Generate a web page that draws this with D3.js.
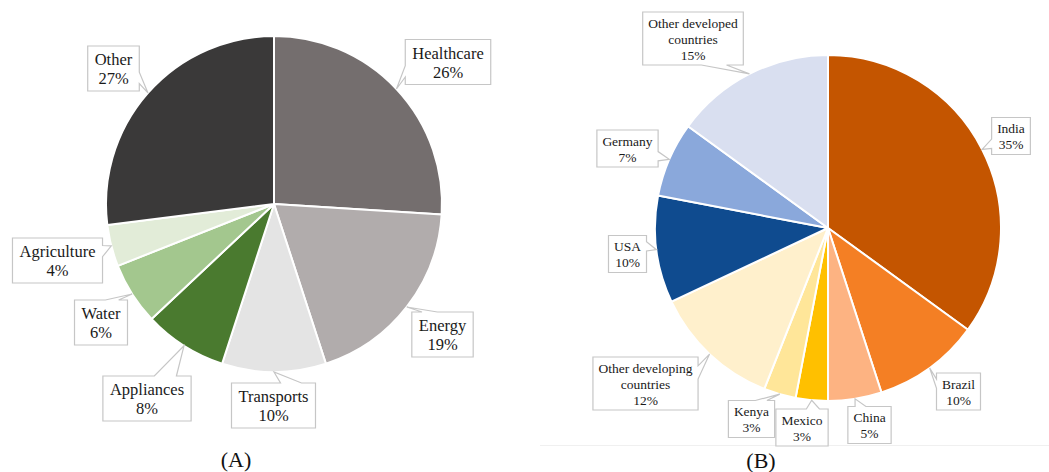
<!DOCTYPE html>
<html>
<head>
<meta charset="utf-8">
<script src="https://cdn.jsdelivr.net/npm/d3@7"></script>
<style>
  html, body { margin: 0; padding: 0; background: #ffffff; }
  svg { display: block; }
</style>
</head>
<body>
<svg id="chart" width="1049" height="472"></svg>
<script>
// ---------- data ----------
const sectorCategories = ["Healthcare", "Energy", "Transports", "Appliances", "Water", "Agriculture", "Other"];
const sectorValues = [26, 19, 10, 8, 6, 4, 27];

const countryCategories = ["India", "Brazil", "China", "Mexico", "Kenya",
  "Other developing\ncountries", "USA", "Germany", "Other developed\ncountries"];
const countryValues = [35, 10, 5, 3, 3, 12, 10, 7, 15];

const panelTitles = ["(A)", "(B)"];

// ---------- styles / layout ----------
const FONT = "'Liberation Serif', 'Times New Roman', Times, serif";
const sectorColors = ["#746e6e", "#b1acac", "#e4e4e4", "#4a7a2f", "#a3c78e", "#e2ecd8", "#3a3939"];
const countryColors = ["#c45500", "#f47f24", "#fdb382", "#ffc000", "#ffe699", "#fff0cc", "#0f4b8f", "#8aa8db", "#d9dff0"];

const panelA = {
  cx: 274, cy: 204, r: 168, font: 16.5, lh: 19, padX: 7, padY: 7, k: 6,
  boxes: [[448, 62], [442.5, 334.5], [273.5, 405.5], [147, 398.5], [101, 322.5], [57.5, 260.5], [113.5, 68.5]],
  title: [236, 467]
};
const panelB = {
  cx: 828, cy: 228, r: 173, font: 13.5, lh: 16, padX: 5.5, padY: 5, k: 5,
  boxes: [[1011, 136], [958.5, 391.5], [869.5, 425], [802, 427.5], [751.5, 419], [645.5, 383.5], [627.5, 254], [627.5, 148.5], [693, 38.5]],
  title: [761, 468]
};

const svg = d3.select("#chart");

// faint rule under panel B
svg.append("line").attr("x1", 540).attr("x2", 1049).attr("y1", 445.5).attr("y2", 445.5)
  .attr("stroke", "#f0f0f0").attr("stroke-width", 1);

function callout(x, y, w, h, tx, ty) {
  // OOXML wedgeRectCallout geometry
  const hc = x + w / 2, vc = y + h / 2;
  const dx = tx - hc, dy = ty - vc;
  const dq = dx * h / w;
  const dz = Math.abs(dy) - Math.abs(dq);
  const xg1 = dx > 0 ? 7 : 2, xg2 = dx > 0 ? 10 : 5;
  const yg1 = dy > 0 ? 7 : 2, yg2 = dy > 0 ? 10 : 5;
  const x1 = x + w * xg1 / 12, x2 = x + w * xg2 / 12;
  const y1 = y + h * yg1 / 12, y2 = y + h * yg2 / 12;
  const pts = [];
  pts.push([x, y]);
  if (dz > 0 && dy < 0) { pts.push([x1, y], [tx, ty], [x2, y]); }
  pts.push([x + w, y]);
  if (dz <= 0 && dx > 0) { pts.push([x + w, y1], [tx, ty], [x + w, y2]); }
  pts.push([x + w, y + h]);
  if (dz > 0 && dy > 0) { pts.push([x2, y + h], [tx, ty], [x1, y + h]); }
  pts.push([x, y + h]);
  if (dz <= 0 && dx < 0) { pts.push([x, y2], [tx, ty], [x, y1]); }
  return "M" + pts.map(p => p[0] + "," + p[1]).join("L") + "Z";
}

function drawPie(cats, vals, colors, cfg) {
  const g = svg.append("g");
  const pie = d3.pie().sort(null).value(d => d.v)(cats.map((c, i) => ({ c, v: vals[i] })));
  const arc = d3.arc().innerRadius(0).outerRadius(cfg.r);
  g.append("g").attr("transform", `translate(${cfg.cx},${cfg.cy})`)
    .selectAll("path").data(pie).join("path")
    .attr("d", arc)
    .attr("fill", (d, i) => colors[i])
    .attr("stroke", "#ffffff").attr("stroke-width", 2).attr("stroke-linejoin", "round");

  const labels = g.append("g");
  pie.forEach((d, i) => {
    const a = (d.startAngle + d.endAngle) / 2;
    const tx = cfg.cx + cfg.r * Math.sin(a);
    const ty = cfg.cy - cfg.r * Math.cos(a);
    const lines = d.data.c.split("\n").concat([d.data.v + "%"]);
    const [bx, by] = cfg.boxes[i];
    const lg = labels.append("g");
    const path = lg.append("path");
    const texts = lines.map((ln, j) => lg.append("text")
      .attr("x", bx)
      .attr("y", by + (j - (lines.length - 1) / 2) * cfg.lh + cfg.k)
      .attr("text-anchor", "middle")
      .attr("font-family", FONT)
      .attr("font-size", cfg.font)
      .attr("fill", "#1a1a1a")
      .text(ln));
    const tw = d3.max(texts, t => t.node().getComputedTextLength());
    const w = tw + 2 * cfg.padX, h = lines.length * cfg.lh + cfg.padY;
    path.attr("d", callout(bx - w / 2, by - h / 2, w, h, tx, ty))
      .attr("fill", "#ffffff").attr("stroke", "#c6c6c6").attr("stroke-width", 1.2)
      .attr("stroke-linejoin", "miter");
  });
  return g;
}

drawPie(sectorCategories, sectorValues, sectorColors, panelA);
drawPie(countryCategories, countryValues, countryColors, panelB);

[panelA, panelB].forEach((p, i) => {
  svg.append("text").attr("x", p.title[0]).attr("y", p.title[1])
    .attr("text-anchor", "middle")
    .attr("font-family", FONT).attr("font-size", 22).attr("fill", "#111")
    .text(panelTitles[i]);
});
</script>
</body>
</html>
